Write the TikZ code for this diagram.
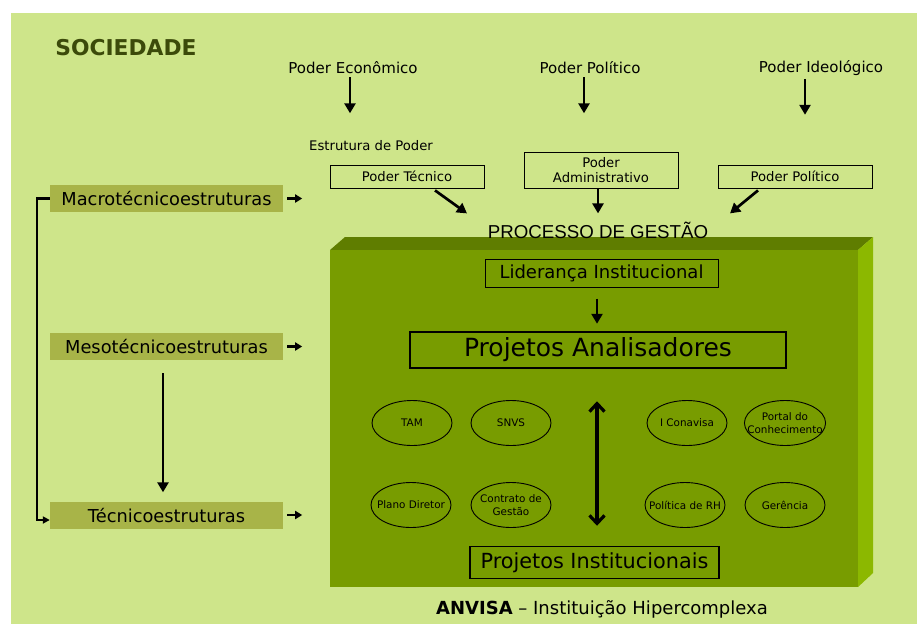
\documentclass[tikz,border=0pt]{standalone}
\usepackage{fontspec}
\setmainfont{DejaVu Sans}
\newfontfamily\arialf{Liberation Sans}
\usetikzlibrary{arrows.meta,shapes.geometric}
\definecolor{bgc}{RGB}{206,229,138}
\definecolor{labc}{RGB}{168,180,72}
\definecolor{frontc}{RGB}{120,156,0}
\definecolor{topc}{RGB}{95,125,0}
\definecolor{sidec}{RGB}{140,184,0}
\definecolor{socc}{RGB}{60,74,10}
\newcommand\fsz[2]{\fontsize{#1}{#2}\selectfont}
\tikzset{
  txt/.style={inner sep=0pt},
  pbox/.style={draw=black, line width=0.8pt, inner sep=0pt, font=\fsz{13.2}{15}},
  ibox/.style={draw=black, inner sep=0pt},
  lab/.style={fill=labc, minimum width=233pt, minimum height=27pt, inner sep=0pt, font=\fsz{17.8}{20}},
  ell/.style={ellipse, draw=black, line width=0.9pt, minimum width=80pt, minimum height=45pt, inner xsep=-9pt, inner ysep=-4pt, align=center, font=\fsz{10.4}{13}},
  tarr/.style={line width=2.7pt, -{Triangle[length=10pt,width=11pt]}},
  sarr/.style={line width=2.4pt, -{Triangle[length=7pt,width=8pt]}},
  darr/.style={line width=3.2pt, {Straight Barb[length=8pt,width=15pt]}-{Straight Barb[length=8pt,width=15pt]}}
}
\begin{document}
\begin{tikzpicture}[x=1pt,y=-1pt]
\fill[white] (0,0) rectangle (917,624);
\useasboundingbox (0,0) rectangle (917,624);
\fill[bgc] (11,13) rectangle (917,624);
% 3D box
\fill[topc] (330,250) -- (345,237) -- (873,237) -- (858,250) -- cycle;
\fill[sidec] (858,250) -- (873,237) -- (873,573) -- (858,587) -- cycle;
\fill[frontc] (330,250) rectangle (858,587);

% top texts
\node[txt, font=\bfseries\fsz{21.8}{24}, text=socc] (soc) at (126,48) {SOCIEDADE};
\node[txt, font=\fsz{15}{18}] (econ) at (353,68) {Poder Econômico};
\node[txt, font=\fsz{15}{18}] (pol) at (590,68) {Poder Político};
\node[txt, font=\fsz{15}{18}] (ideo) at (821,68) {Poder Ideológico};
\node[txt, font=\fsz{13.2}{15}] (estr) at (371,146) {Estrutura de Poder};
\node[pbox, minimum width=154pt, minimum height=23pt] (ptec) at (407,176.5) {Poder Técnico};
\node[pbox, minimum width=154pt, minimum height=36pt, align=center] (padm) at (601,170) {Poder\\Administrativo};
\node[pbox, minimum width=154pt, minimum height=23pt] (ppol) at (795,176.5) {Poder Político};
\node[txt, font=\arialf\fsz{18.7}{22}] (proc) at (598,230) {PROCESSO DE GESTÃO};

\draw[tarr] ([xshift=-3pt,yshift=-3pt]econ.south) -- ++(0,36);
\draw[tarr] ([xshift=-6pt,yshift=-3pt]pol.south) -- ++(0,36);
\draw[tarr] ([xshift=-16pt,yshift=-3pt]ideo.south) -- ++(0,36);
\draw[tarr] ([xshift=28pt,yshift=-2pt]ptec.south) -- ++(32,23);
\draw[tarr] ([xshift=-3pt]padm.south) -- ++(0,25);
\draw[tarr] ([xshift=-37pt,yshift=-2pt]ppol.south) -- ++(-28,23);

% left labels
\node[lab] (macro) at (166.5,198.5) {Macrotécnicoestruturas};
\node[lab] (meso) at (166.5,346.5) {Mesotécnicoestruturas};
\node[lab] (tec) at (166.5,515) {Técnicoestruturas};
\draw[sarr] ([xshift=4pt]macro.east) -- ++(15,0);
\draw[sarr] ([xshift=4pt]meso.east) -- ++(15,0);
\draw[sarr] ([xshift=4pt]tec.east) -- ++(15,0);
\draw[line width=2.6pt, -{Triangle[length=7pt,width=7pt]}] (macro.west) -- ++(-13,0) |- ([yshift=-5pt]tec.west);
\draw[tarr] ([xshift=-3.5pt,yshift=-13pt]meso.south) -- ([xshift=-3.5pt,yshift=9pt]tec.north);

% inside box
\node[ibox, line width=1pt, minimum width=233pt, minimum height=28pt, font=\fsz{18}{20}] (lid) at (601.5,273) {Liderança Institucional};
\node[ibox, line width=2.5pt, minimum width=376pt, minimum height=36pt, font=\fsz{25}{28}] (pa) at (598,350) {Projetos Analisadores};
\node[ibox, line width=1.5pt, minimum width=249pt, minimum height=32pt, font=\fsz{20.8}{24}] (pi) at (594.5,562.5) {Projetos Institucionais};
\draw[tarr] ([xshift=-4.5pt,yshift=-11pt]lid.south) -- ([xshift=-1pt,yshift=7pt]pa.north);
\draw[darr] ([xshift=-1pt,yshift=-32pt]pa.south) -- ([xshift=2.5pt,yshift=20pt]pi.north);

\node[ell] (tam) at (412,423) {TAM};
\node[ell] (snvs) at (511,423) {SNVS};
\node[ell] (conv) at (687,423) {I Conavisa};
\node[ell] (port) at (785,423) {Portal do\\Conhecimento};
\node[ell] (plan) at (411,505) {Plano Diretor};
\node[ell] (cont) at (511,505) {Contrato de\\Gestão};
\node[ell] (polrh) at (685,505) {Política de RH};
\node[ell] (ger) at (785,505) {Gerência};

\node[txt, font=\fsz{18}{20}] (anv) at (602,609) {\textbf{ANVISA} – Instituição Hipercomplexa};
\end{tikzpicture}
\end{document}
